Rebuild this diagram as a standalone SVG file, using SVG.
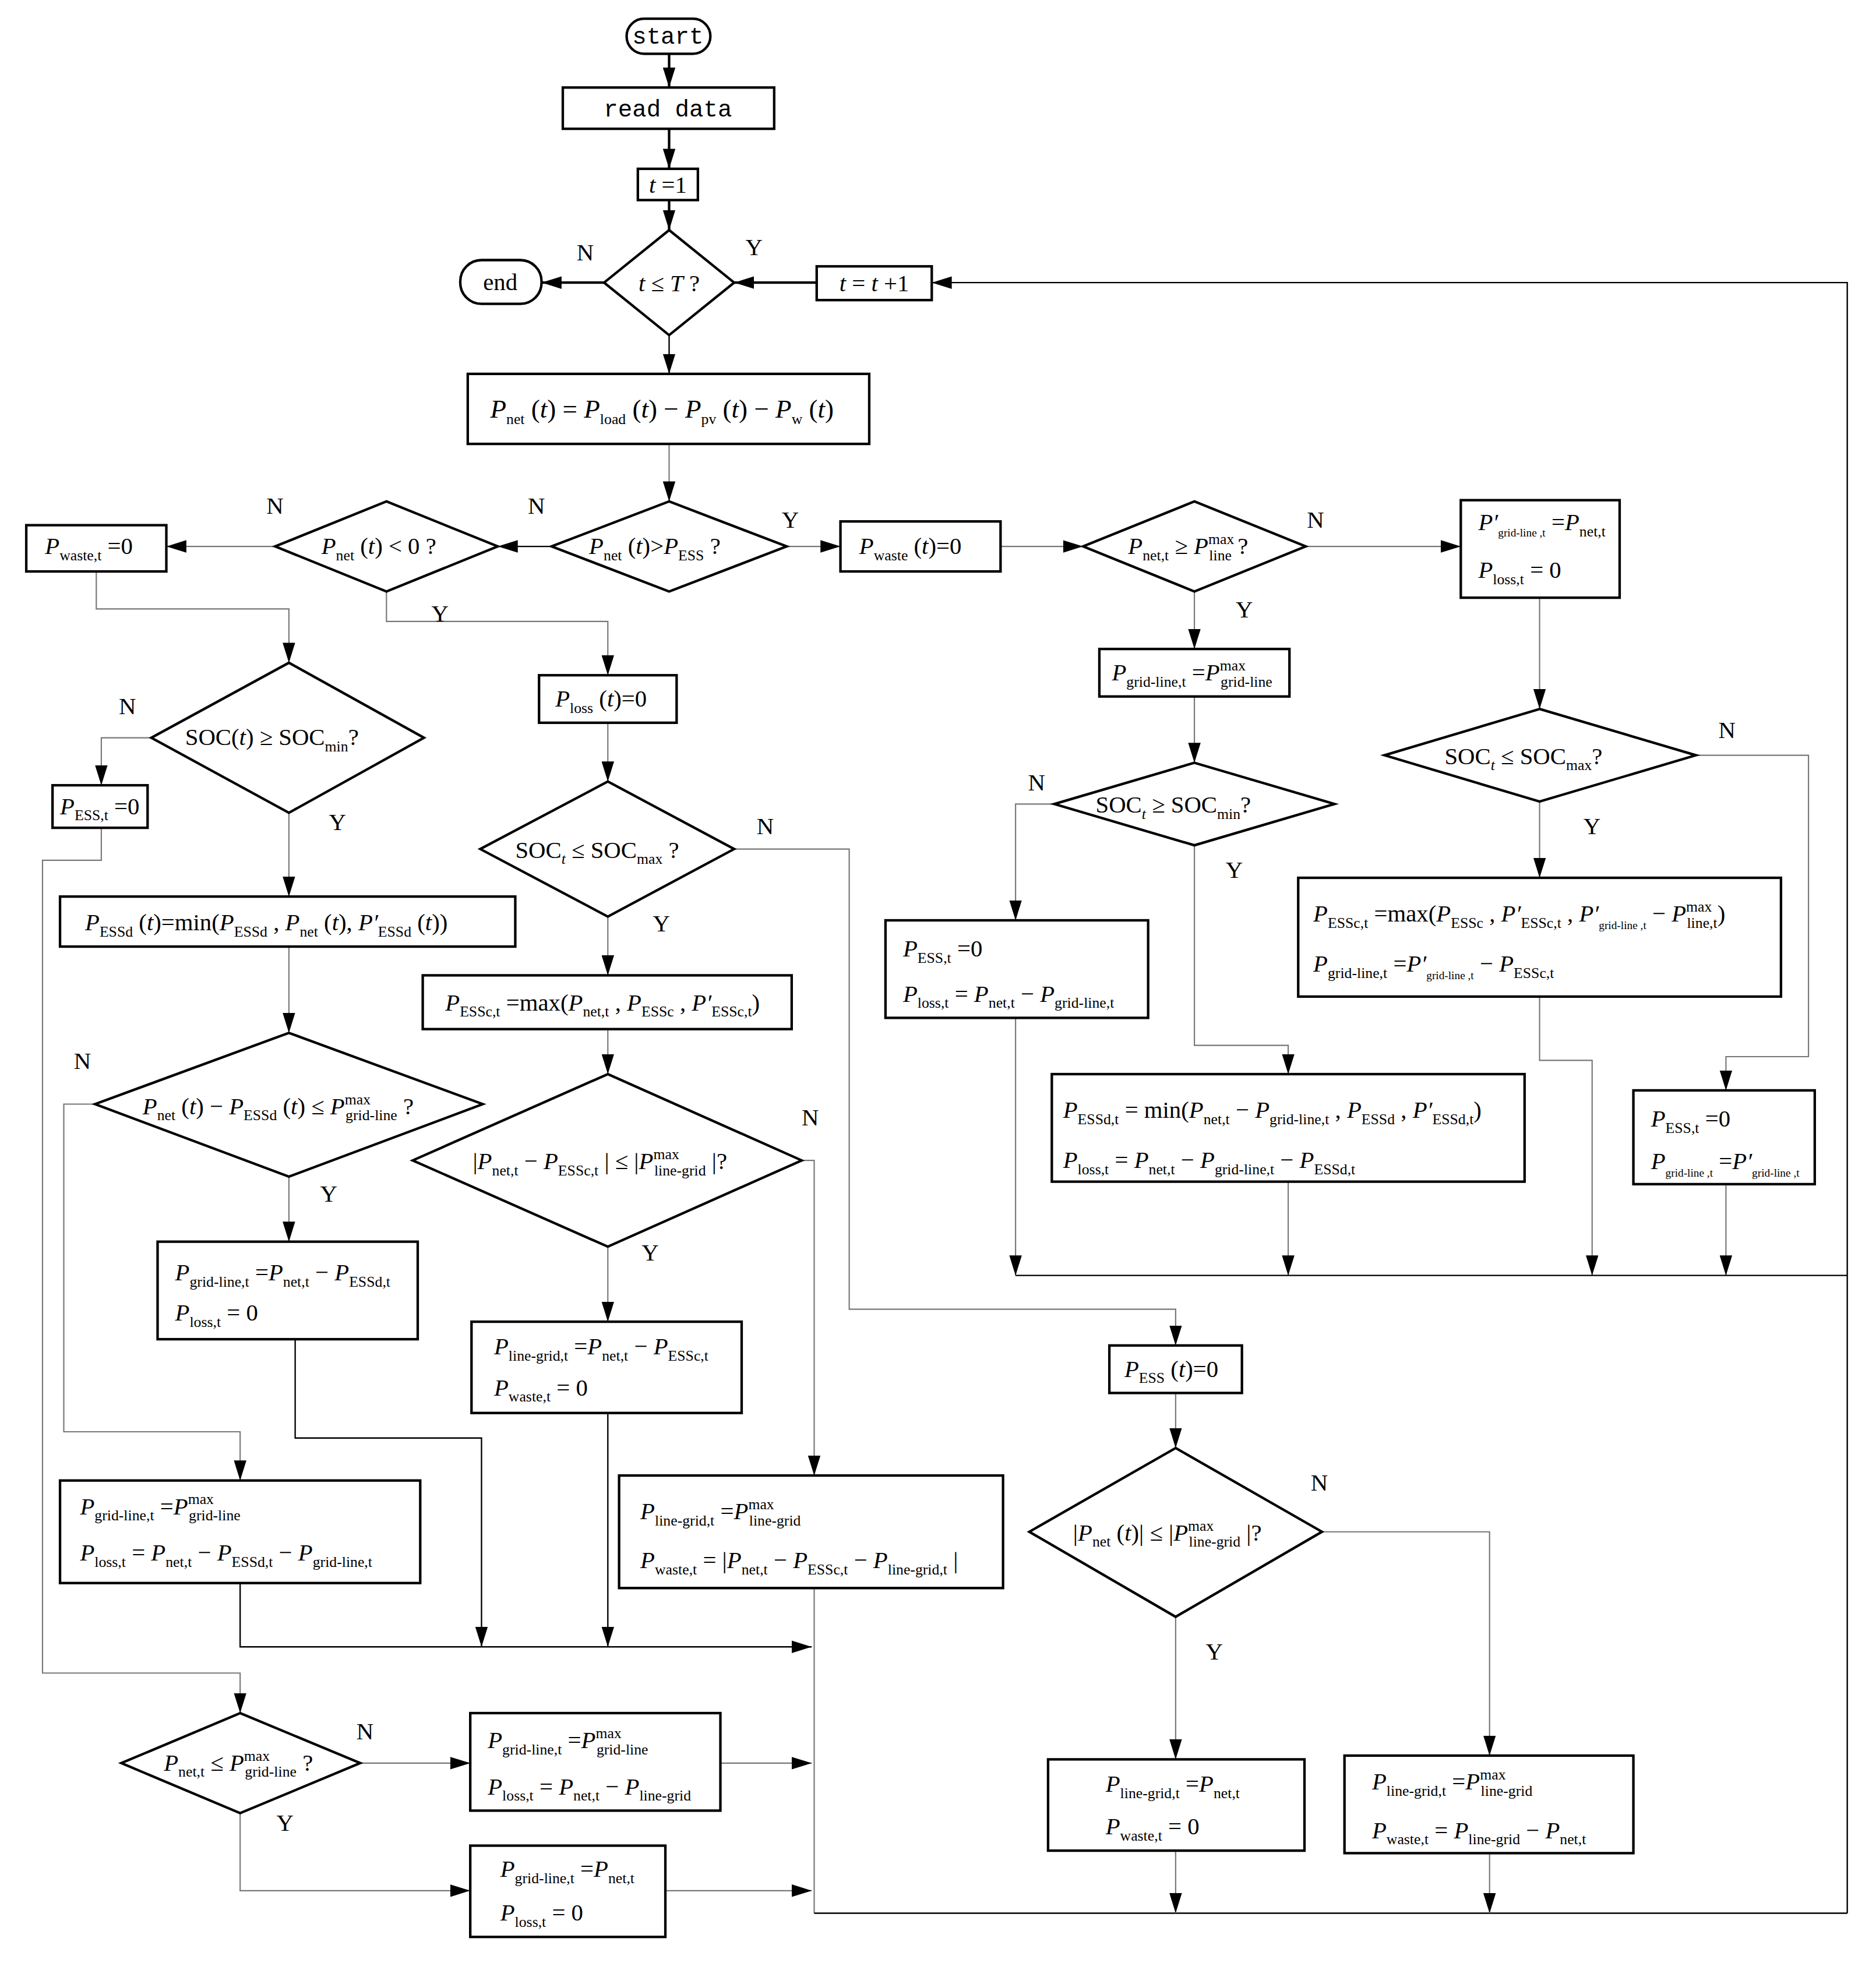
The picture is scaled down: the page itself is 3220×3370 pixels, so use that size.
<svg xmlns="http://www.w3.org/2000/svg" width="3220" height="3370" viewBox="0 0 3220 3370">
<defs>
<marker id="a" markerUnits="userSpaceOnUse" markerWidth="16" markerHeight="10" refX="16" refY="5" orient="auto"><path d="M0,0 L16,5 L0,10 z" fill="#000"/></marker>
<style>
text{font-family:"Liberation Serif","Times New Roman",serif;font-size:19px;fill:#000}
.i{font-style:italic}
.s{font-size:12px}
.lb{font-size:19px}
.mono{font-family:"Liberation Mono","DejaVu Sans Mono",monospace;font-size:19px}
.bx{fill:#fff;stroke:#000;stroke-width:2}
.c{fill:none;stroke:#000;stroke-width:1.1}
.t{fill:none;stroke:#000;stroke-width:2}
.g{fill:none;stroke:#777;stroke-width:1}
</style>
</defs>
<rect width="3220" height="3370" fill="#fff"/>
<g transform="scale(2.1467)">
<g id="connectors">
<path class="t" d="M535,43V70" marker-end="url(#a)"/>
<path class="t" d="M535,103V135" marker-end="url(#a)"/>
<path class="t" d="M535,160V184" marker-end="url(#a)"/>
<path class="t" d="M483,226H433" marker-end="url(#a)"/>
<path class="t" d="M653,226H587" marker-end="url(#a)"/>
<path class="c" d="M535,268V299" marker-end="url(#a)"/>
<path class="c" d="M1477,1530V226H745" marker-end="url(#a)"/>
<path class="g" d="M535,355V401" marker-end="url(#a)"/>
<path class="c" d="M441,437H398" marker-end="url(#a)"/>
<path class="g" d="M220,437H133" marker-end="url(#a)"/>
<path class="g" d="M629,437H672" marker-end="url(#a)"/>
<path class="g" d="M800,437H866" marker-end="url(#a)"/>
<path class="g" d="M1044,437H1168" marker-end="url(#a)"/>
<path class="g" d="M955,473V519" marker-end="url(#a)"/>
<path class="g" d="M955,557V610" marker-end="url(#a)"/>
<path class="g" d="M843,643H812V736" marker-end="url(#a)"/>
<path class="g" d="M955,676V836H1030V859" marker-end="url(#a)"/>
<path class="g" d="M812,814V1020" marker-end="url(#a)"/>
<path class="g" d="M1030,945V1020" marker-end="url(#a)"/>
<path class="g" d="M1231,478V567" marker-end="url(#a)"/>
<path class="g" d="M1356,604H1446V845H1380V872" marker-end="url(#a)"/>
<path class="g" d="M1231,641V702" marker-end="url(#a)"/>
<path class="g" d="M1231,797V848H1273V1020" marker-end="url(#a)"/>
<path class="g" d="M1380,947V1020" marker-end="url(#a)"/>
<path class="c" d="M812,1020H1477"/>
<path class="g" d="M77,457V487H231V530" marker-end="url(#a)"/>
<path class="g" d="M121,590H81V628" marker-end="url(#a)"/>
<path class="g" d="M81,662V688H34V1338H192V1370" marker-end="url(#a)"/>
<path class="g" d="M231,650V717" marker-end="url(#a)"/>
<path class="g" d="M231,757V826" marker-end="url(#a)"/>
<path class="g" d="M76,883H51V1145H192V1184" marker-end="url(#a)"/>
<path class="g" d="M231,941V993" marker-end="url(#a)"/>
<path class="c" d="M236,1071V1150H385V1317" marker-end="url(#a)"/>
<path class="c" d="M192,1266V1317H649" marker-end="url(#a)"/>
<path class="g" d="M309,473V497H486V540" marker-end="url(#a)"/>
<path class="g" d="M486,578V625" marker-end="url(#a)"/>
<path class="g" d="M587,679H679V1047H940V1076" marker-end="url(#a)"/>
<path class="g" d="M486,733V780" marker-end="url(#a)"/>
<path class="g" d="M486,823V859" marker-end="url(#a)"/>
<path class="g" d="M641,928H651V1180" marker-end="url(#a)"/>
<path class="g" d="M486,997V1057" marker-end="url(#a)"/>
<path class="c" d="M486,1130V1317" marker-end="url(#a)"/>
<path class="g" d="M651,1270V1530"/>
<path class="c" d="M651,1530H1477"/>
<path class="g" d="M288,1410H376" marker-end="url(#a)"/>
<path class="g" d="M576,1410H649" marker-end="url(#a)"/>
<path class="g" d="M192,1450V1512H376" marker-end="url(#a)"/>
<path class="g" d="M532,1512H649" marker-end="url(#a)"/>
<path class="g" d="M940,1114V1158" marker-end="url(#a)"/>
<path class="g" d="M1057,1225H1191V1404" marker-end="url(#a)"/>
<path class="g" d="M940,1293V1407" marker-end="url(#a)"/>
<path class="g" d="M940,1480V1530" marker-end="url(#a)"/>
<path class="g" d="M1191,1482V1530" marker-end="url(#a)"/>
</g>
<g id="labels">
<text x="461" y="208">N</text><text x="596" y="204">Y</text>
<text x="213" y="411">N</text><text x="422" y="411">N</text><text x="625" y="422">Y</text>
<text x="1045" y="422">N</text><text x="988" y="494">Y</text><text x="345" y="497">Y</text>
<text x="95" y="571">N</text><text x="263" y="664">Y</text><text x="605" y="667">N</text>
<text x="522" y="745">Y</text><text x="822" y="632">N</text><text x="980" y="702">Y</text>
<text x="1374" y="590">N</text><text x="1266" y="667">Y</text><text x="59" y="855">N</text>
<text x="256" y="961">Y</text><text x="641" y="900">N</text><text x="513" y="1008">Y</text>
<text x="1048" y="1192">N</text><text x="964" y="1327">Y</text><text x="285" y="1391">N</text>
<text x="221" y="1464">Y</text>
</g>
<g id="start"><rect class="bx" x="501" y="15" width="67" height="28" rx="14"/><text class="mono" x="534" y="35" text-anchor="middle">start</text></g>
<g id="read"><rect class="bx" x="450" y="70" width="169" height="33"/><text class="mono" x="534" y="93" text-anchor="middle">read data</text></g>
<g id="t1"><rect class="bx" x="510" y="135" width="48" height="25"/><text x="534" y="154" text-anchor="middle"><tspan class="i">t</tspan> =1</text></g>
<g id="cond_t"><path class="bx" d="M535,184L587,226L535,268L483,226z"/><text x="535" y="233" text-anchor="middle"><tspan class="i">t</tspan> ≤ <tspan class="i">T</tspan> ?</text></g>
<g id="end"><rect class="bx" x="368" y="208" width="65" height="35" rx="17"/><text x="400" y="232" text-anchor="middle">end</text></g>
<g id="tinc"><rect class="bx" x="653" y="213" width="92" height="27"/><text x="699" y="233" text-anchor="middle"><tspan class="i">t</tspan> = <tspan class="i">t</tspan> +1</text></g>
<g id="pnet"><rect class="bx" x="374" y="299" width="321" height="56"/><text x="392" y="334" style="font-size:21px"><tspan class="i">P</tspan><tspan class="s" dy="5">net</tspan><tspan dy="-5"> (</tspan><tspan class="i">t</tspan>) = <tspan class="i">P</tspan><tspan class="s" dy="5">load</tspan><tspan dy="-5"> (</tspan><tspan class="i">t</tspan>) − <tspan class="i">P</tspan><tspan class="s" dy="5">pv</tspan><tspan dy="-5"> (</tspan><tspan class="i">t</tspan>) − <tspan class="i">P</tspan><tspan class="s" dy="5">w</tspan><tspan dy="-5"> (</tspan><tspan class="i">t</tspan>)</text></g>
<g id="d_pess"><path class="bx" d="M535,401L629,437L535,473L441,437z"/><text x="471" y="443"><tspan class="i">P</tspan><tspan class="s" dy="5">net</tspan><tspan dy="-5"> (</tspan><tspan class="i">t</tspan>)&gt;<tspan class="i">P</tspan><tspan class="s" dy="5">ESS</tspan><tspan dy="-5">  ?</tspan></text></g>
<g id="d_neg"><path class="bx" d="M309,401L398,437L309,473L220,437z"/><text x="257" y="443"><tspan class="i">P</tspan><tspan class="s" dy="5">net</tspan><tspan dy="-5"> (</tspan><tspan class="i">t</tspan>) &lt; 0 ?</text></g>
<g id="pwaste0"><rect class="bx" x="21" y="420" width="112" height="37"/><text x="36" y="443"><tspan class="i">P</tspan><tspan class="s" dy="5">waste,t</tspan><tspan dy="-5"> =0</tspan></text></g>
<g id="pwastet"><rect class="bx" x="672" y="417" width="128" height="40"/><text x="687" y="443"><tspan class="i">P</tspan><tspan class="s" dy="5">waste</tspan><tspan dy="-5"> (</tspan><tspan class="i">t</tspan>)=0</text></g>
<g id="d_line"><path class="bx" d="M955,401L1044,437L955,473L866,437z"/><text x="902" y="443"><tspan class="i">P</tspan><tspan class="s" dy="5">net,t</tspan><tspan dy="-5"> ≥ </tspan><tspan class="i">P</tspan><tspan class="s" dy="-8">max</tspan><tspan class="s" dx="-20" dy="13">line</tspan><tspan dy="-5"> ?</tspan></text></g>
<g id="b_pgl1"><rect class="bx" x="1168" y="400" width="127" height="78"/><text x="1182" y="424"><tspan class="i">P′</tspan><tspan class="s" dy="5" style="font-size:9px">grid-line ,t</tspan><tspan dy="-5"> =</tspan><tspan class="i">P</tspan><tspan class="s" dy="5">net,t</tspan></text><text x="1182" y="462"><tspan class="i">P</tspan><tspan class="s" dy="5">loss,t</tspan><tspan dy="-5">  = 0</tspan></text></g>
<g id="b_pglmax"><rect class="bx" x="879" y="519" width="152" height="38"/><text x="889" y="544"><tspan class="i">P</tspan><tspan class="s" dy="5">grid-line,t</tspan><tspan dy="-5"> =</tspan><tspan class="i">P</tspan><tspan class="s" dy="-8">max</tspan><tspan class="s" dx="-20" dy="13">grid-line</tspan></text></g>
<g id="d_socmin_r"><path class="bx" d="M955,610L1067,643L955,676L843,643z"/><text x="876" y="650">SOC<tspan class="s i" dy="5">t</tspan><tspan dy="-5"> ≥ SOC</tspan><tspan class="s" dy="5">min</tspan><tspan dy="-5">?</tspan></text></g>
<g id="d_socmax_r"><path class="bx" d="M1231,567L1356,604L1231,641L1107,604z"/><text x="1155" y="611">SOC<tspan class="s i" dy="5">t</tspan><tspan dy="-5"> ≤ SOC</tspan><tspan class="s" dy="5">max</tspan><tspan dy="-5">?</tspan></text></g>
<g id="b_pessc_r"><rect class="bx" x="1038" y="702" width="386" height="95"/><text x="1050" y="737"><tspan class="i">P</tspan><tspan class="s" dy="5">ESSc,t</tspan><tspan dy="-5"> =max(</tspan><tspan class="i">P</tspan><tspan class="s" dy="5">ESSc</tspan><tspan dy="-5"> , </tspan><tspan class="i">P′</tspan><tspan class="s" dy="5">ESSc,t</tspan><tspan dy="-5"> , </tspan><tspan class="i">P′</tspan><tspan class="s" dy="6" style="font-size:9px">grid-line ,t</tspan><tspan dy="-6">  − </tspan><tspan class="i">P</tspan><tspan class="s" dy="-8">max</tspan><tspan class="s" dx="-20" dy="13">line,t</tspan><tspan dy="-5">)</tspan></text><text x="1050" y="777"><tspan class="i">P</tspan><tspan class="s" dy="5">grid-line,t</tspan><tspan dy="-5"> =</tspan><tspan class="i">P′</tspan><tspan class="s" dy="6" style="font-size:9px">grid-line ,t</tspan><tspan dy="-6">  − </tspan><tspan class="i">P</tspan><tspan class="s" dy="5">ESSc,t</tspan></text></g>
<g id="b_pess0_r"><rect class="bx" x="708" y="736" width="210" height="78"/><text x="722" y="765"><tspan class="i">P</tspan><tspan class="s" dy="5">ESS,t</tspan><tspan dy="-5"> =0</tspan></text><text x="722" y="801"><tspan class="i">P</tspan><tspan class="s" dy="5">loss,t</tspan><tspan dy="-5"> = </tspan><tspan class="i">P</tspan><tspan class="s" dy="5">net,t</tspan><tspan dy="-5"> − </tspan><tspan class="i">P</tspan><tspan class="s" dy="5">grid-line,t</tspan></text></g>
<g id="b_pessd_r"><rect class="bx" x="841" y="859" width="378" height="86"/><text x="850" y="894"><tspan class="i">P</tspan><tspan class="s" dy="5">ESSd,t</tspan><tspan dy="-5"> = min(</tspan><tspan class="i">P</tspan><tspan class="s" dy="5">net,t</tspan><tspan dy="-5"> − </tspan><tspan class="i">P</tspan><tspan class="s" dy="5">grid-line,t</tspan><tspan dy="-5"> , </tspan><tspan class="i">P</tspan><tspan class="s" dy="5">ESSd</tspan><tspan dy="-5"> ,   </tspan><tspan class="i">P′</tspan><tspan class="s" dy="5">ESSd,t</tspan><tspan dy="-5">)</tspan></text><text x="850" y="934"><tspan class="i">P</tspan><tspan class="s" dy="5">loss,t</tspan><tspan dy="-5"> = </tspan><tspan class="i">P</tspan><tspan class="s" dy="5">net,t</tspan><tspan dy="-5"> − </tspan><tspan class="i">P</tspan><tspan class="s" dy="5">grid-line,t</tspan><tspan dy="-5"> − </tspan><tspan class="i">P</tspan><tspan class="s" dy="5">ESSd,t</tspan></text></g>
<g id="b_pess0_rr"><rect class="bx" x="1306" y="872" width="145" height="75"/><text x="1320" y="901"><tspan class="i">P</tspan><tspan class="s" dy="5">ESS,t</tspan><tspan dy="-5"> =0</tspan></text><text x="1320" y="935"><tspan class="i">P</tspan><tspan class="s" dy="6" style="font-size:9px">grid-line ,t</tspan><tspan dy="-6"> =</tspan><tspan class="i">P′</tspan><tspan class="s" dy="6" style="font-size:9px">grid-line ,t</tspan></text></g>
<g id="d_soc_l"><path class="bx" d="M231,530L339,590L231,650L121,590z"/><text x="148" y="596">SOC(<tspan class="i">t</tspan>) ≥ SOC<tspan class="s" dy="5">min</tspan><tspan dy="-5">?</tspan></text></g>
<g id="b_pess0_l"><rect class="bx" x="42" y="628" width="76" height="34"/><text x="48" y="651"><tspan class="i">P</tspan><tspan class="s" dy="5">ESS,t</tspan><tspan dy="-5"> =0</tspan></text></g>
<g id="b_pessd_l"><rect class="bx" x="48" y="717" width="364" height="40"/><text x="68" y="744"><tspan class="i">P</tspan><tspan class="s" dy="5">ESSd</tspan><tspan dy="-5"> (</tspan><tspan class="i">t</tspan>)=min(<tspan class="i">P</tspan><tspan class="s" dy="5">ESSd</tspan><tspan dy="-5"> , </tspan><tspan class="i">P</tspan><tspan class="s" dy="5">net</tspan><tspan dy="-5"> (</tspan><tspan class="i">t</tspan>), <tspan class="i">P′</tspan><tspan class="s" dy="5">ESSd</tspan><tspan dy="-5"> (</tspan><tspan class="i">t</tspan>))</text></g>
<g id="d_pnet_l"><path class="bx" d="M231,826L386,883L231,941L76,883z"/><text x="114" y="891"><tspan class="i">P</tspan><tspan class="s" dy="5">net</tspan><tspan dy="-5"> (</tspan><tspan class="i">t</tspan>) − <tspan class="i">P</tspan><tspan class="s" dy="5">ESSd</tspan><tspan dy="-5"> (</tspan><tspan class="i">t</tspan>) ≤ <tspan class="i">P</tspan><tspan class="s" dy="-8">max</tspan><tspan class="s" dx="-20" dy="13">grid-line</tspan><tspan dy="-5"> ?</tspan></text></g>
<g id="b_pgl_l"><rect class="bx" x="126" y="993" width="208" height="78"/><text x="140" y="1024"><tspan class="i">P</tspan><tspan class="s" dy="5">grid-line,t</tspan><tspan dy="-5"> =</tspan><tspan class="i">P</tspan><tspan class="s" dy="5">net,t</tspan><tspan dy="-5"> − </tspan><tspan class="i">P</tspan><tspan class="s" dy="5">ESSd,t</tspan></text><text x="140" y="1056"><tspan class="i">P</tspan><tspan class="s" dy="5">loss,t</tspan><tspan dy="-5">  = 0</tspan></text></g>
<g id="b_pglmax_l"><rect class="bx" x="48" y="1184" width="288" height="82"/><text x="64" y="1211"><tspan class="i">P</tspan><tspan class="s" dy="5">grid-line,t</tspan><tspan dy="-5"> =</tspan><tspan class="i">P</tspan><tspan class="s" dy="-8">max</tspan><tspan class="s" dx="-20" dy="13">grid-line</tspan></text><text x="64" y="1248"><tspan class="i">P</tspan><tspan class="s" dy="5">loss,t</tspan><tspan dy="-5"> = </tspan><tspan class="i">P</tspan><tspan class="s" dy="5">net,t</tspan><tspan dy="-5"> − </tspan><tspan class="i">P</tspan><tspan class="s" dy="5">ESSd,t</tspan><tspan dy="-5"> − </tspan><tspan class="i">P</tspan><tspan class="s" dy="5">grid-line,t</tspan></text></g>
<g id="b_ploss"><rect class="bx" x="431" y="540" width="110" height="38"/><text x="444" y="565"><tspan class="i">P</tspan><tspan class="s" dy="5">loss</tspan><tspan dy="-5"> (</tspan><tspan class="i">t</tspan>)=0</text></g>
<g id="d_socmax_m"><path class="bx" d="M486,625L587,679L486,733L384,679z"/><text x="412" y="686">SOC<tspan class="s i" dy="5">t</tspan><tspan dy="-5"> ≤ SOC</tspan><tspan class="s" dy="5">max</tspan><tspan dy="-5"> ?</tspan></text></g>
<g id="b_pessc_m"><rect class="bx" x="338" y="780" width="295" height="43"/><text x="356" y="808"><tspan class="i">P</tspan><tspan class="s" dy="5">ESSc,t</tspan><tspan dy="-5"> =max(</tspan><tspan class="i">P</tspan><tspan class="s" dy="5">net,t</tspan><tspan dy="-5"> , </tspan><tspan class="i">P</tspan><tspan class="s" dy="5">ESSc</tspan><tspan dy="-5"> , </tspan><tspan class="i">P′</tspan><tspan class="s" dy="5">ESSc,t</tspan><tspan dy="-5">)</tspan></text></g>
<g id="d_abs_m"><path class="bx" d="M486,859L641,928L486,997L330,928z"/><text x="378" y="935">|<tspan class="i">P</tspan><tspan class="s" dy="5">net,t</tspan><tspan dy="-5"> − </tspan><tspan class="i">P</tspan><tspan class="s" dy="5">ESSc,t</tspan><tspan dy="-5"> | ≤ |</tspan><tspan class="i">P</tspan><tspan class="s" dy="-8">max</tspan><tspan class="s" dx="-20" dy="13">line-grid</tspan><tspan dy="-5"> |?</tspan></text></g>
<g id="b_plg_m"><rect class="bx" x="377" y="1057" width="216" height="73"/><text x="395" y="1083"><tspan class="i">P</tspan><tspan class="s" dy="5">line-grid,t</tspan><tspan dy="-5"> =</tspan><tspan class="i">P</tspan><tspan class="s" dy="5">net,t</tspan><tspan dy="-5"> − </tspan><tspan class="i">P</tspan><tspan class="s" dy="5">ESSc,t</tspan></text><text x="395" y="1116"><tspan class="i">P</tspan><tspan class="s" dy="5">waste,t</tspan><tspan dy="-5">  = 0</tspan></text></g>
<g id="b_plgmax_m"><rect class="bx" x="495" y="1180" width="307" height="90"/><text x="512" y="1215"><tspan class="i">P</tspan><tspan class="s" dy="5">line-grid,t</tspan><tspan dy="-5"> =</tspan><tspan class="i">P</tspan><tspan class="s" dy="-8">max</tspan><tspan class="s" dx="-20" dy="13">line-grid</tspan></text><text x="512" y="1254"><tspan class="i">P</tspan><tspan class="s" dy="5">waste,t</tspan><tspan dy="-5">  = |</tspan><tspan class="i">P</tspan><tspan class="s" dy="5">net,t</tspan><tspan dy="-5"> − </tspan><tspan class="i">P</tspan><tspan class="s" dy="5">ESSc,t</tspan><tspan dy="-5"> − </tspan><tspan class="i">P</tspan><tspan class="s" dy="5">line-grid,t</tspan><tspan dy="-5"> |</tspan></text></g>
<g id="d_pnet_bl"><path class="bx" d="M192,1370L288,1410L192,1450L97,1410z"/><text x="131" y="1416"><tspan class="i">P</tspan><tspan class="s" dy="5">net,t</tspan><tspan dy="-5"> ≤ </tspan><tspan class="i">P</tspan><tspan class="s" dy="-8">max</tspan><tspan class="s" dx="-20" dy="13">grid-line</tspan><tspan dy="-5"> ?</tspan></text></g>
<g id="b_pglmax_bl"><rect class="bx" x="376" y="1370" width="200" height="78"/><text x="390" y="1398"><tspan class="i">P</tspan><tspan class="s" dy="5">grid-line,t</tspan><tspan dy="-5"> =</tspan><tspan class="i">P</tspan><tspan class="s" dy="-8">max</tspan><tspan class="s" dx="-20" dy="13">grid-line</tspan></text><text x="390" y="1435"><tspan class="i">P</tspan><tspan class="s" dy="5">loss,t</tspan><tspan dy="-5">  = </tspan><tspan class="i">P</tspan><tspan class="s" dy="5">net,t</tspan><tspan dy="-5"> − </tspan><tspan class="i">P</tspan><tspan class="s" dy="5">line-grid</tspan></text></g>
<g id="b_pgl_bl"><rect class="bx" x="376" y="1476" width="156" height="73"/><text x="400" y="1501"><tspan class="i">P</tspan><tspan class="s" dy="5">grid-line,t</tspan><tspan dy="-5"> =</tspan><tspan class="i">P</tspan><tspan class="s" dy="5">net,t</tspan></text><text x="400" y="1536"><tspan class="i">P</tspan><tspan class="s" dy="5">loss,t</tspan><tspan dy="-5">  = 0</tspan></text></g>
<g id="b_pess_t"><rect class="bx" x="887" y="1076" width="106" height="38"/><text x="899" y="1101"><tspan class="i">P</tspan><tspan class="s" dy="5">ESS</tspan><tspan dy="-5"> (</tspan><tspan class="i">t</tspan>)=0</text></g>
<g id="d_abs_r"><path class="bx" d="M940,1158L1057,1225L940,1293L823,1225z"/><text x="858" y="1232">|<tspan class="i">P</tspan><tspan class="s" dy="5">net</tspan><tspan dy="-5"> (</tspan><tspan class="i">t</tspan>)| ≤ |<tspan class="i">P</tspan><tspan class="s" dy="-8">max</tspan><tspan class="s" dx="-20" dy="13">line-grid</tspan><tspan dy="-5"> |?</tspan></text></g>
<g id="b_plg_r"><rect class="bx" x="838" y="1407" width="205" height="73"/><text x="884" y="1433"><tspan class="i">P</tspan><tspan class="s" dy="5">line-grid,t</tspan><tspan dy="-5"> =</tspan><tspan class="i">P</tspan><tspan class="s" dy="5">net,t</tspan></text><text x="884" y="1467"><tspan class="i">P</tspan><tspan class="s" dy="5">waste,t</tspan><tspan dy="-5">  = 0</tspan></text></g>
<g id="b_plgmax_r"><rect class="bx" x="1075" y="1404" width="231" height="78"/><text x="1097" y="1431"><tspan class="i">P</tspan><tspan class="s" dy="5">line-grid,t</tspan><tspan dy="-5"> =</tspan><tspan class="i">P</tspan><tspan class="s" dy="-8">max</tspan><tspan class="s" dx="-20" dy="13">line-grid</tspan></text><text x="1097" y="1470"><tspan class="i">P</tspan><tspan class="s" dy="5">waste,t</tspan><tspan dy="-5">  = </tspan><tspan class="i">P</tspan><tspan class="s" dy="5">line-grid</tspan><tspan dy="-5"> − </tspan><tspan class="i">P</tspan><tspan class="s" dy="5">net,t</tspan></text></g>
</g>
</svg>
